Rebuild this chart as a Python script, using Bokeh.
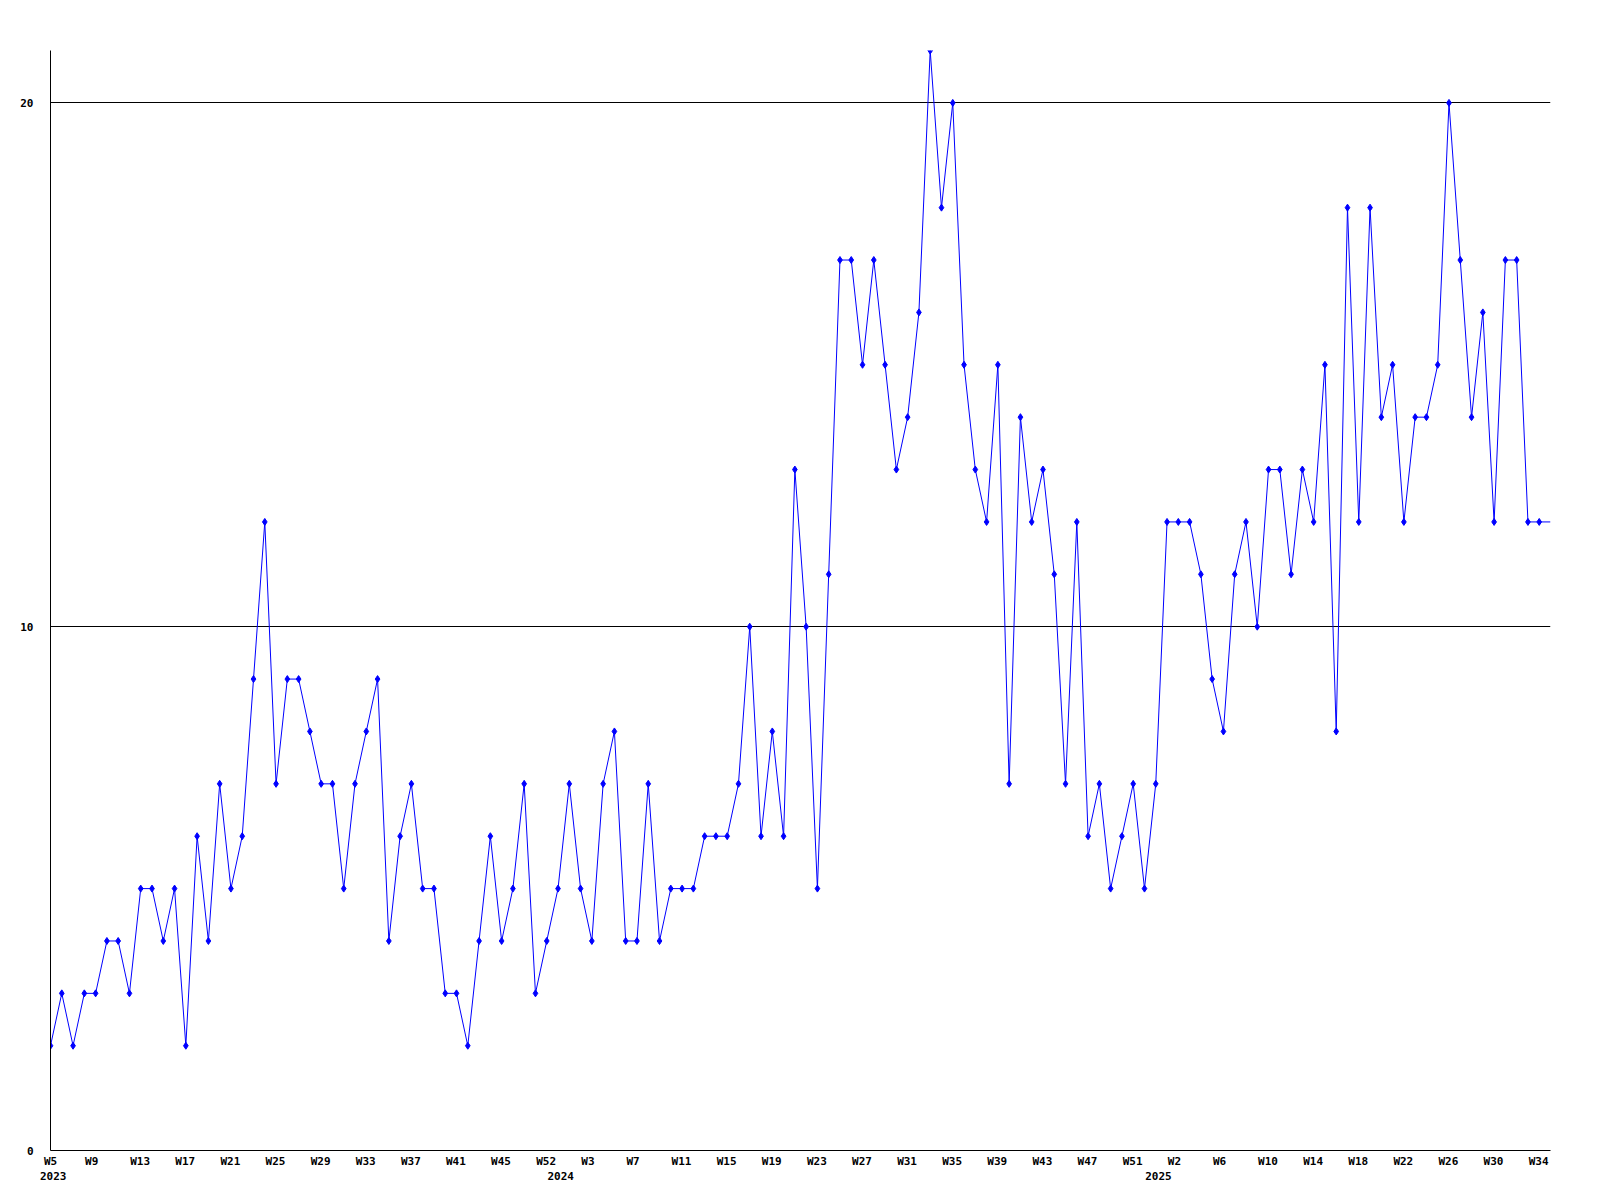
from bokeh.plotting import figure
from bokeh.models import FixedTicker, LinearAxis, Range1d, CustomJSTickFormatter
from bokeh.embed import file_html
from bokeh.resources import INLINE

# weekly values, 2023 W5 ... 2025 W35 (one point per plotted week)
values = [2, 3, 2, 3, 3, 4, 4, 3, 5, 5,
          4, 5, 2, 6, 4, 7, 5, 6, 9, 12,
          7, 9, 9, 8, 7, 7, 5, 7, 8, 9,
          4, 6, 7, 5, 5, 3, 3, 2, 4, 6,
          4, 5, 7, 3, 4, 5, 7, 5, 4, 7,
          8, 4, 4, 7, 4, 5, 5, 5, 6, 6,
          6, 7, 10, 6, 8, 6, 13, 10, 5, 11,
          17, 17, 15, 17, 15, 13, 14, 16, 21, 18,
          20, 15, 13, 12, 15, 7, 14, 12, 13, 11,
          7, 12, 6, 7, 5, 6, 7, 5, 7, 12,
          12, 12, 11, 9, 8, 11, 12, 10, 13, 13,
          11, 13, 12, 15, 8, 18, 12, 18, 14, 15,
          12, 14, 14, 15, 20, 17, 14, 16, 12, 17,
          17, 12, 12, 12]

# tick labels, one for every 4th point
week_labels = ["W5", "W9", "W13", "W17", "W21", "W25", "W29", "W33", "W37", "W41", "W45", "W52",
               "W3", "W7", "W11", "W15", "W19", "W23", "W27", "W31", "W35", "W39", "W43", "W47", "W51",
               "W2", "W6", "W10", "W14", "W18", "W22", "W26", "W30", "W34"]
label_every = 4

# year captions and the index of the first point of each year
years = ["2023", "2024", "2025"]
year_first_point = [0, 45, 98]

y_ticks = [0, 10, 20]
grid_lines = [10, 20]

FONT = "DejaVu Sans Mono"
FSIZE = "11px"
CHAR_W = 6.62
FRAME_W, FRAME_H = 1500, 1100
LEFT_SHIFT = -10.5  # label left edge relative to its point, px

n = len(values)
xs = list(range(n))
px_per_unit = FRAME_W / (n - 1)


def centre_offset(text):
    return (LEFT_SHIFT + len(text) * CHAR_W / 2.0) / px_per_unit


p = figure(frame_width=FRAME_W, frame_height=FRAME_H,
           output_backend="svg", toolbar_location=None,
           x_range=Range1d(0, n - 1), y_range=Range1d(0, max(values)),
           min_border_left=50, min_border_top=50, min_border_right=50, min_border_bottom=50,
           background_fill_color="white", border_fill_color="white")
p.outline_line_color = None
p.xgrid.visible = False
p.ygrid.ticker = FixedTicker(ticks=grid_lines)
p.ygrid.grid_line_color = "black"
p.ygrid.grid_line_alpha = 1.0
p.ygrid.grid_line_width = 1

# y axis
ya = p.yaxis[0]
ya.ticker = FixedTicker(ticks=y_ticks)
ya.major_tick_out = 0
ya.major_tick_in = 0
ya.minor_tick_out = 0
ya.minor_tick_in = 0
ya.major_label_standoff = 17
ya.axis_line_color = "black"
ya.major_label_text_font = FONT
ya.major_label_text_font_style = "bold"
ya.major_label_text_font_size = FSIZE
ya.major_label_text_color = "black"

# x axis: week labels
xa = p.xaxis[0]
week_ticks = [max(0.0, k * label_every + centre_offset(lbl)) for k, lbl in enumerate(week_labels)]
xa.ticker = FixedTicker(ticks=week_ticks)
xa.formatter = CustomJSTickFormatter(
    args=dict(labels=week_labels, every=label_every),
    code="const i = Math.round(tick / every); return (i >= 0 && i < labels.length) ? labels[i] : '';")
xa.major_tick_out = 0
xa.major_tick_in = 0
xa.minor_tick_out = 0
xa.minor_tick_in = 0
xa.major_label_standoff = 4
xa.axis_line_color = "black"
xa.major_label_text_font = FONT
xa.major_label_text_font_style = "bold"
xa.major_label_text_font_size = FSIZE
xa.major_label_text_color = "black"

# second x axis: years
year_ticks = [max(0.0, s + centre_offset(y)) for s, y in zip(year_first_point, years)]
ya2 = LinearAxis(ticker=FixedTicker(ticks=year_ticks),
                 formatter=CustomJSTickFormatter(
                     args=dict(starts=year_first_point, years=years),
                     code="""
let best = 0, bd = 1e9;
for (let j = 0; j < starts.length; j++) {
  const d = Math.abs(tick - starts[j]);
  if (d < bd) { bd = d; best = j; }
}
return years[best];"""))
ya2.axis_line_color = None
ya2.major_tick_out = 0
ya2.major_tick_in = 0
ya2.minor_tick_out = 0
ya2.minor_tick_in = 0
ya2.major_label_standoff = 1
ya2.major_label_text_font = FONT
ya2.major_label_text_font_style = "bold"
ya2.major_label_text_font_size = FSIZE
ya2.major_label_text_color = "black"
p.add_layout(ya2, "below")

# series
p.line(xs, values, line_color="#0000ff", line_width=1)
p.scatter(xs[:-1], values[:-1], marker="diamond", size=7,
          fill_color="#0000ff", line_color="#0000ff")

open("out.html", "w").write(file_html(p, INLINE))
